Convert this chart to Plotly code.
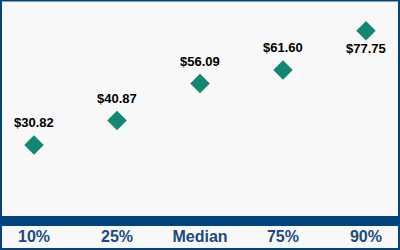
import plotly.graph_objects as go

categories = ["10%", "25%", "Median", "75%", "90%"]
values = [30.82, 40.87, 56.09, 61.60, 77.75]
labels = ["$30.82", "$40.87", "$56.09", "$61.60", "$77.75"]
label_above = [True, True, True, True, False]

W, H = 400, 250
T, B = 1, 30
ph = H - T - B
BLUE = "#00457f"

fig = go.Figure(go.Scatter(
    x=categories, y=values, mode="markers",
    marker=dict(symbol="diamond", size=15, color="#148773"),
    cliponaxis=False, hoverinfo="skip",
))

annotations = []
for c, v, t, above in zip(categories, values, labels, label_above):
    annotations.append(dict(
        x=c, y=v, text=t, showarrow=False, xanchor="center", yanchor="middle",
        yshift=22.5 if above else -18,
        font=dict(family="Liberation Sans", size=13, color="#000000", weight="bold"),
    ))

fig.update_layout(
    width=W, height=H,
    margin=dict(l=0, r=0, t=T, b=B),
    paper_bgcolor="#f8f8f8", plot_bgcolor="#f8f8f8",
    showlegend=False,
    annotations=annotations,
    xaxis=dict(type="category", range=[-0.41, 4.41], showgrid=False, zeroline=False,
               showline=False, ticks="", ticklabelstandoff=5,
               tickfont=dict(family="Liberation Sans", size=16, color="#1c4a80", weight="bold")),
    yaxis=dict(range=[0, 90], visible=False),
    shapes=[
        dict(type="rect", xref="paper", yref="paper", x0=0, x1=1,
             y0=-(226 - (H - B)) / ph, y1=((H - B) - 216) / ph,
             line=dict(width=0), fillcolor=BLUE, layer="above"),
        dict(type="rect", xref="paper", yref="paper",
             x0=1 / W, x1=1 - 1 / W,
             y0=-(B - 1) / ph, y1=1 + (T - 0.5) / ph,
             line=dict(color=BLUE, width=2), fillcolor="rgba(0,0,0,0)", layer="above"),
    ],
)

fig.write_html("out.html")
